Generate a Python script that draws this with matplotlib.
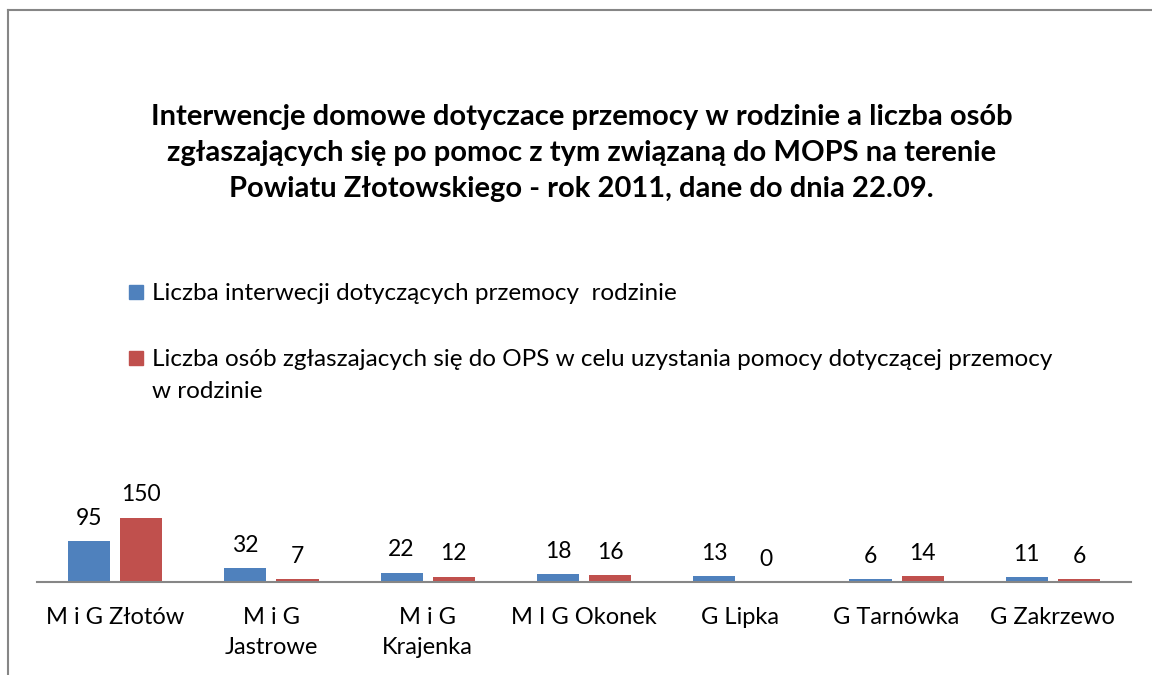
import matplotlib
matplotlib.use('Agg')
import matplotlib.pyplot as plt
from matplotlib.patches import Rectangle
import numpy as np

plt.rcParams['font.family'] = ['Lato', 'DejaVu Sans']

categories = ['M i G Złotów', 'M i G\nJastrowe', 'M i G\nKrajenka', 'M I G Okonek',
              'G Lipka', 'G Tarnówka', 'G Zakrzewo']
interwencje = [95, 32, 22, 18, 13, 6, 11]
zgloszenia = [150, 7, 12, 16, 0, 14, 6]
series_names = ['Liczba interwecji dotyczących przemocy  rodzinie',
                'Liczba osób zgłaszajacych się do OPS w celu uzystania pomocy dotyczącej przemocy\nw rodzinie']
title = ('Interwencje domowe dotyczace przemocy w rodzinie a liczba osób\n'
         'zgłaszających się po pomoc z tym związaną do MOPS na terenie\n'
         'Powiatu Złotowskiego - rok 2011, dane do dnia 22.09.')

blue = '#4f81bd'
red = '#c0504d'
W, H = 1152, 675

fig = plt.figure(figsize=(11.52, 6.75), dpi=100)

# chart frame (cropped on right/bottom like the original)
fig.add_artist(plt.Line2D([8/W, 8/W], [0, 1 - 10/H], color='#868686', lw=1.5,
                          transform=fig.transFigure))
fig.add_artist(plt.Line2D([8/W, 1], [1 - 10/H, 1 - 10/H], color='#868686', lw=1.5,
                          transform=fig.transFigure))

ax = fig.add_axes([37/W, 1 - 582/H, (1131 - 37)/W, 112/H])
ind = np.arange(len(categories))
width = 0.27
off = 0.167
b1 = ax.bar(ind - off, interwencje, width, color=blue)
b2 = ax.bar(ind + off, zgloszenia, width, color=red)
ax.bar_label(b1, padding=9, fontsize=16.5)
ax.bar_label(b2, padding=9, fontsize=16.5)

ax.set_xlim(-0.5, len(categories) - 0.5)
ax.set_ylim(0, 262)
ax.set_xticks(ind)
ax.set_xticklabels(categories, fontsize=17, linespacing=1.5)
ax.tick_params(axis='x', length=0, pad=18)
ax.set_yticks([])
for s in ['top', 'right', 'left']:
    ax.spines[s].set_visible(False)
ax.spines['bottom'].set_color('#868686')
ax.spines['bottom'].set_linewidth(1.5)

fig.text(0.505, 1 - 153/H, title, ha='center', va='center', fontsize=21,
         fontweight='bold', linespacing=1.46)

# legend, square markers aligned with first line of each label
leg_rows = [292, 358]
for color, name, yc in zip([blue, red], series_names, leg_rows):
    fig.add_artist(Rectangle((129/W, 1 - (yc + 7)/H), 14/W, 14/H, color=color,
                             transform=fig.transFigure))
    fig.text(152/W, 1 - (yc - 9)/H, name, ha='left', va='top', fontsize=17.5,
             linespacing=1.65)

fig.savefig('out.png', dpi=100)
